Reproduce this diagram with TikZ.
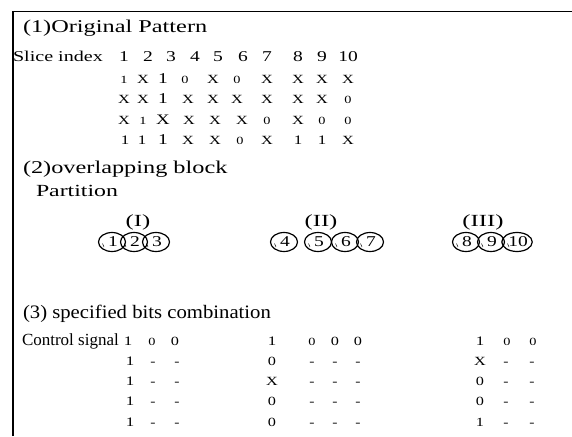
\documentclass[tikz,border=0pt]{standalone}
\usepackage{fontspec}
\setmainfont{Liberation Serif}
\newfontfamily\wdf[FakeStretch=1.3]{Liberation Serif}
\usepackage{graphicx}
\usetikzlibrary{shapes.geometric}
\newcommand{\W}[2]{\scalebox{#1}[1]{#2}}
\newcommand{\fsz}[1]{\fontsize{#1}{#1}\selectfont}
\begin{document}
\begin{tikzpicture}[x=1pt,y=-1pt,
  every node/.style={inner sep=0pt,outer sep=0pt},
  hdr/.style={anchor=base west,font=\fsz{18}},
  lab/.style={anchor=base west,font=\fsz{15}},
  grp/.style={anchor=base,font=\fsz{17}},
  sm/.style={anchor=base,font=\wdf\fsz{11}},
  xx/.style={anchor=base,font=\wdf\fsz{12.5}},
  md/.style={anchor=base,font=\wdf\fsz{13}},
  bg/.style={anchor=base,font=\wdf\fsz{15}},
  bx/.style={anchor=base,font=\wdf\fsz{14.5}},
  idx/.style={anchor=base,font=\wdf\fsz{15}},
  dsh/.style={anchor=base,font=\wdf\fsz{12}},
  circ/.style={ellipse,draw,line width=1.2pt,minimum width=27pt,minimum height=19pt,font=\wdf\fsz{15}},
  tick/.style={line width=0.5pt},
  frame/.style={line width=1.6pt}]
\useasboundingbox (0,0) rectangle (572,436);
\coordinate (fb) at (13,436);
\coordinate (fc) at (13,11.5);
\coordinate (fr) at (572,11.5);
\draw[frame] (fb) -- (fc) -- (fr);

% (1) Original pattern
\node[hdr] (h1) at (23,33) {\W{1.35}{(1)Original Pattern}};
\node[lab] (si) at (13,62) {\W{1.34}{Slice index}};
\foreach \x/\t [count=\i from 1] in {124/1,148/2,171/3,195/4,218/5,243/6,267/7,298/8,322/9,348/10}
  \node[idx] (s\i) at (\x,62) {\t};
\foreach \x/\t/\f [count=\i from 1] in {124/1/sm,143/X/xx,163/1/bg,185/0/sm,213/X/xx,237/0/sm,267/X/xx,298/X/xx,322/X/xx,348/X/xx}
  \node[\f] (ra\i) at (\x,83) {\t};
\foreach \x/\t/\f [count=\i from 1] in {124/X/xx,143/X/xx,163/1/bg,188/X/xx,213/X/xx,237/X/xx,267/X/xx,298/X/xx,322/X/xx,348/0/sm}
  \node[\f] (rb\i) at (\x,103) {\t};
\foreach \x/\t/\f [count=\i from 1] in {124/X/xx,143/1/sm,163/X/bx,189/X/xx,215/X/xx,242/X/xx,267/0/sm,298/X/xx,322/0/sm,348/0/sm}
  \node[\f] (rc\i) at (\x,124) {\t};
\foreach \x/\t/\f [count=\i from 1] in {125/1/md,142/1/md,163/1/bg,188/X/xx,215/X/xx,240/0/sm,267/X/xx,298/1/md,322/1/md,348/X/xx}
  \node[\f] (rd\i) at (\x,144) {\t};

% (2) overlapping block
\node[hdr] (h2) at (23,173) {\W{1.35}{(2)overlapping block}};
\node[hdr,font=\fsz{17}] (pt) at (36,196) {\W{1.4}{Partition}};
\node[grp] (g1) at (138,226) {\W{1.45}{(I)}};
\node[grp] (g2) at (321,226) {\W{1.45}{(II)}};
\node[grp] (g3) at (483,226) {\W{1.45}{(III)}};
\foreach \x/\t [count=\i from 1] in {112/1,134/2,156/3,284/4,318/5,345/6,370/7,466/8,491/9,517/10}{
  \node[circ] (k\i) at (\x,242) {\hspace{2pt}\t};
  \draw[tick] (k\i.center) ++(-9.5,1.5) -- ++(1.5,3.5);
}

% (3) specified bits combination
\node[hdr,font=\fsz{19}] (h3) at (23,318) {\W{1.09}{(3) specified bits combination}};
\node[hdr,font=\fsz{17}] (cs) at (22,345) {Control signal};
\foreach \x/\t/\f [count=\i from 1] in {128/1/md,152/0/sm,175/0/xx,272/1/md,312/0/sm,335/0/xx,358/0/xx,480/1/md,507/0/sm,533/0/sm}
  \node[\f] (q\i) at (\x,345) {\t};
\foreach \y/\a/\b [count=\j from 1] in {365/0/X,385/X/0,405/0/0,426/0/1}{
  \node[md] (p\j a) at (130,\y) {1};
  \node[dsh] (p\j b) at (153,\y) {-};
  \node[dsh] (p\j c) at (177,\y) {-};
  \node[xx] (p\j d) at (272,\y) {\a};
  \node[dsh] (p\j e) at (312,\y) {-};
  \node[dsh] (p\j f) at (335,\y) {-};
  \node[dsh] (p\j g) at (358,\y) {-};
  \node[xx] (p\j h) at (480,\y) {\b};
  \node[dsh] (p\j i) at (506,\y) {-};
  \node[dsh] (p\j k) at (532,\y) {-};
}
\end{tikzpicture}
\end{document}
